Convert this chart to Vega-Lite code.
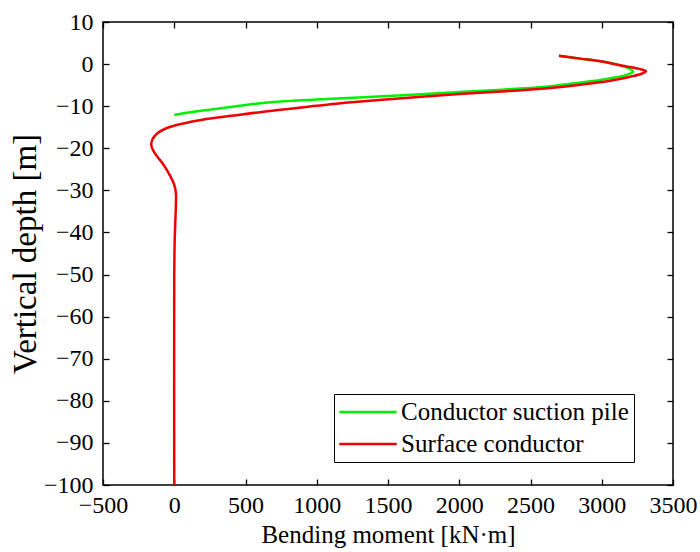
{
  "$schema": "https://vega.github.io/schema/vega-lite/v6.json",
  "width": 570,
  "height": 463,
  "autosize": {"type": "none"},
  "padding": {"left": 103, "top": 22, "right": 27, "bottom": 67},
  "background": "white",
  "config": {
    "font": "Liberation Serif",
    "view": {"stroke": "black", "strokeWidth": 1.5},
    "axis": {
      "domain": false,
      "grid": false,
      "tickColor": "black",
      "tickWidth": 1.3,
      "tickSize": -6,
      "labelColor": "black",
      "labelFont": "Liberation Serif",
      "labelFontSize": 24,
      "labelOverlap": false,
      "labelBound": false,
      "labelFlush": false,
      "titleColor": "black",
      "titleFont": "Liberation Serif",
      "titleFontWeight": "normal"
    },
    "legend": {
      "orient": "none",
      "legendX": 231,
      "legendY": 372,
      "strokeColor": "black",
      "fillColor": "white",
      "padding": 5,
      "labelFontSize": 25,
      "labelFont": "Liberation Serif",
      "labelColor": "black",
      "labelLimit": 0,
      "symbolType": "M-2.5,0H2.5",
      "symbolSize": 529,
      "symbolStrokeWidth": 2.5,
      "symbolOffset": 16,
      "rowPadding": 6,
      "labelOffset": 20
    }
  },
  "data": {
    "values": [
      {"s": "Conductor suction pile", "i": 1, "m": 2700, "d": 2.0},
      {"s": "Conductor suction pile", "i": 2, "m": 2850, "d": 1.3},
      {"s": "Conductor suction pile", "i": 3, "m": 3000, "d": 0.6},
      {"s": "Conductor suction pile", "i": 4, "m": 3120, "d": -0.2},
      {"s": "Conductor suction pile", "i": 5, "m": 3190, "d": -1.0},
      {"s": "Conductor suction pile", "i": 6, "m": 3220, "d": -1.8},
      {"s": "Conductor suction pile", "i": 7, "m": 3180, "d": -2.5},
      {"s": "Conductor suction pile", "i": 8, "m": 3000, "d": -3.7},
      {"s": "Conductor suction pile", "i": 9, "m": 2800, "d": -4.6},
      {"s": "Conductor suction pile", "i": 10, "m": 2600, "d": -5.4},
      {"s": "Conductor suction pile", "i": 11, "m": 2300, "d": -6.1},
      {"s": "Conductor suction pile", "i": 12, "m": 2000, "d": -6.65},
      {"s": "Conductor suction pile", "i": 13, "m": 1500, "d": -7.6},
      {"s": "Conductor suction pile", "i": 14, "m": 1000, "d": -8.4},
      {"s": "Conductor suction pile", "i": 15, "m": 700, "d": -9.0},
      {"s": "Conductor suction pile", "i": 16, "m": 500, "d": -9.7},
      {"s": "Conductor suction pile", "i": 17, "m": 300, "d": -10.6},
      {"s": "Conductor suction pile", "i": 18, "m": 100, "d": -11.5},
      {"s": "Conductor suction pile", "i": 19, "m": 0, "d": -12.1},
      {"s": "Surface conductor", "i": 1, "m": 2700, "d": 2.0},
      {"s": "Surface conductor", "i": 2, "m": 2850, "d": 1.3},
      {"s": "Surface conductor", "i": 3, "m": 3000, "d": 0.6},
      {"s": "Surface conductor", "i": 4, "m": 3120, "d": -0.2},
      {"s": "Surface conductor", "i": 5, "m": 3200, "d": -0.7},
      {"s": "Surface conductor", "i": 6, "m": 3270, "d": -1.2},
      {"s": "Surface conductor", "i": 7, "m": 3310, "d": -1.7},
      {"s": "Surface conductor", "i": 8, "m": 3280, "d": -2.3},
      {"s": "Surface conductor", "i": 9, "m": 3200, "d": -3.0},
      {"s": "Surface conductor", "i": 10, "m": 3050, "d": -4.0},
      {"s": "Surface conductor", "i": 11, "m": 2850, "d": -4.9},
      {"s": "Surface conductor", "i": 12, "m": 2600, "d": -5.8},
      {"s": "Surface conductor", "i": 13, "m": 2300, "d": -6.5},
      {"s": "Surface conductor", "i": 14, "m": 2000, "d": -7.1},
      {"s": "Surface conductor", "i": 15, "m": 1600, "d": -8.1},
      {"s": "Surface conductor", "i": 16, "m": 1200, "d": -9.2},
      {"s": "Surface conductor", "i": 17, "m": 1000, "d": -9.9},
      {"s": "Surface conductor", "i": 18, "m": 700, "d": -11.0},
      {"s": "Surface conductor", "i": 19, "m": 400, "d": -12.3},
      {"s": "Surface conductor", "i": 20, "m": 200, "d": -13.2},
      {"s": "Surface conductor", "i": 21, "m": 50, "d": -14.2},
      {"s": "Surface conductor", "i": 22, "m": -60, "d": -15.3},
      {"s": "Surface conductor", "i": 23, "m": -120, "d": -16.5},
      {"s": "Surface conductor", "i": 24, "m": -155, "d": -18.0},
      {"s": "Surface conductor", "i": 25, "m": -160, "d": -19.5},
      {"s": "Surface conductor", "i": 26, "m": -140, "d": -21.0},
      {"s": "Surface conductor", "i": 27, "m": -100, "d": -22.8},
      {"s": "Surface conductor", "i": 28, "m": -60, "d": -24.7},
      {"s": "Surface conductor", "i": 29, "m": -25, "d": -26.8},
      {"s": "Surface conductor", "i": 30, "m": 0, "d": -28.7},
      {"s": "Surface conductor", "i": 31, "m": 12, "d": -30.8},
      {"s": "Surface conductor", "i": 32, "m": 12, "d": -33.0},
      {"s": "Surface conductor", "i": 33, "m": 8, "d": -37.0},
      {"s": "Surface conductor", "i": 34, "m": 3, "d": -42.0},
      {"s": "Surface conductor", "i": 35, "m": 0, "d": -50.0},
      {"s": "Surface conductor", "i": 36, "m": 0, "d": -100.0}
    ]
  },
  "layer": [
    {
      "mark": {"type": "line", "strokeWidth": 2.5, "interpolate": "catmull-rom"},
      "encoding": {
        "x": {
          "field": "m", "type": "quantitative",
          "scale": {"domain": [-500, 3500], "nice": false, "zero": false},
          "axis": {"values": [-500, 0, 500, 1000, 1500, 2000, 2500, 3000, 3500], "format": "d", "title": "Bending moment [kN·m]", "titleFontSize": 25, "labelFontSize": 24, "labelFont": "Liberation Serif", "titleFont": "Liberation Serif", "labelPadding": 14, "titlePadding": 5}
        },
        "y": {
          "field": "d", "type": "quantitative",
          "scale": {"domain": [-100, 10], "nice": false, "zero": false},
          "axis": {"values": [-100, -90, -80, -70, -60, -50, -40, -30, -20, -10, 0, 10], "format": "d", "title": "Vertical depth [m]", "titleFontSize": 33, "labelFontSize": 24, "labelFont": "Liberation Serif", "titleFont": "Liberation Serif", "labelPadding": 16, "titlePadding": 1}
        },
        "color": {
          "field": "s", "type": "nominal",
          "scale": {"domain": ["Conductor suction pile", "Surface conductor"], "range": ["#00f000", "#f00000"]},
          "legend": {"title": null}
        },
        "order": {"field": "i", "type": "quantitative"}
      }
    },
    {
      "mark": {"type": "line", "opacity": 0},
      "encoding": {
        "x": {
          "field": "m", "type": "quantitative",
          "axis": {"orient": "top", "values": [-500, 0, 500, 1000, 1500, 2000, 2500, 3000, 3500], "labels": false, "title": null}
        },
        "y": {
          "field": "d", "type": "quantitative",
          "axis": {"orient": "right", "values": [-100, -90, -80, -70, -60, -50, -40, -30, -20, -10, 0, 10], "labels": false, "title": null}
        },
        "detail": {"field": "s"},
        "order": {"field": "i", "type": "quantitative"}
      }
    }
  ],
  "resolve": {"axis": {"x": "independent", "y": "independent"}}
}
